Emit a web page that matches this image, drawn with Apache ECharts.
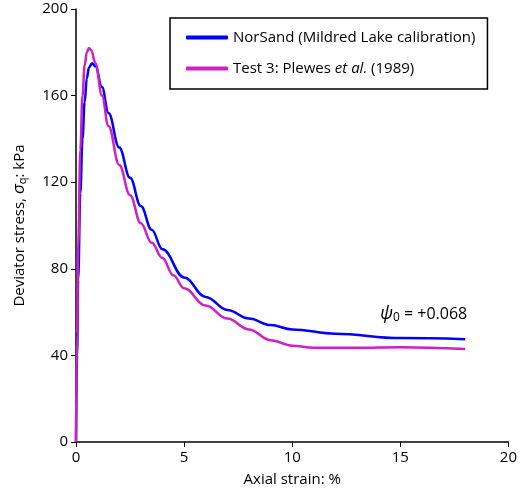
<!DOCTYPE html><html><head><meta charset="utf-8"><script src="https://cdn.jsdelivr.net/npm/echarts@6/dist/echarts.min.js"></script>
<style>body{margin:0}#c{width:520px;height:498px}</style></head><body><div id="c"></div><script>
const xTicks=[0,5,10,15,20];
const yTicks=[0,40,80,120,160,200];
const norsand=[[0,0],[0.05,40],[0.1,75],[0.2,115],[0.3,140],[0.4,157],[0.5,168],[0.6,173],[0.75,175],[0.9,173.5],[1.2,164],[1.5,152],[2,136],[2.5,122],[3,109],[3.5,98],[4,89],[5,76],[6,67],[7,61],[8,57],[9,54],[10,52],[12,50],[15,48],[18,47.5]];
const test3=[[0,0],[0.05,50],[0.1,90],[0.2,135],[0.3,160],[0.4,174],[0.5,180],[0.6,182],[0.7,181],[0.9,175],[1.2,160],[1.5,146],[2,128],[2.5,114],[3,101],[3.5,92],[4,85],[4.5,77],[5,71],[6,63],[7,57],[8,52],[9,47],[10,44.5],[11,43.5],[13,43.5],[15,43.8],[18,43]];
const F='Open Sans';
const ch=echarts.init(document.getElementById('c'));
ch.setOption({
 textStyle:{fontFamily:F},
 grid:{left:76,right:10,top:9,bottom:56},
 xAxis:{type:'value',min:0,max:20,interval:5,name:'Axial strain: %',nameLocation:'middle',nameGap:30,nameTextStyle:{fontSize:15,color:'#000'},
  axisLine:{lineStyle:{color:'#000',width:1.5}},axisTick:{lineStyle:{color:'#000'},length:5},axisLabel:{fontSize:15,color:'#000'},splitLine:{show:false}},
 yAxis:{type:'value',min:0,max:200,interval:40,name:'Deviator stress, {s|σ}{sub|q}: kPa',nameLocation:'middle',nameGap:48,
  nameTextStyle:{fontSize:15,color:'#000',rich:{s:{fontSize:17,fontStyle:'italic',color:'#000'},sub:{fontSize:11,verticalAlign:'bottom',padding:[6,0,0,0],color:'#000'}}},
  axisLine:{show:true,lineStyle:{color:'#000',width:1.5}},axisTick:{show:true,lineStyle:{color:'#000'},length:5},axisLabel:{fontSize:15,color:'#000'},splitLine:{show:false}},
 legend:{left:170,top:18,width:340,orient:'vertical',itemWidth:42,itemHeight:4,itemGap:16,padding:[12,12,13,16],borderColor:'#000',borderWidth:1.5,
  textStyle:{fontSize:15,color:'#000',rich:{i:{fontStyle:'italic',fontSize:15,color:'#000'}}},
  formatter:n=>n==='t3'?'Test 3: Plewes {i|et al.} (1989)':'NorSand (Mildred Lake calibration)',
  data:[{name:'ns',icon:'roundRect'},{name:'t3',icon:'roundRect'}]},
 series:[
  {name:'ns',type:'line',data:norsand,smooth:0.4,smoothMonotone:'x',showSymbol:false,lineStyle:{color:'#0000ff',width:2.5},itemStyle:{color:'#0000ff'}},
  {name:'t3',type:'line',data:test3,smooth:0.4,smoothMonotone:'x',showSymbol:false,lineStyle:{color:'#d020c0',width:2.5},itemStyle:{color:'#d020c0'}}
 ],
 graphic:[{type:'text',left:380,top:305,style:{text:'{p|ψ}{s|0} = +0.068',fontFamily:F,fontSize:16,fill:'#000',rich:{p:{fontStyle:'italic',fontSize:18,fontFamily:F},s:{fontSize:12,verticalAlign:'bottom',padding:[8,0,0,0],fontFamily:F}}}}]
});
</script></body></html>
